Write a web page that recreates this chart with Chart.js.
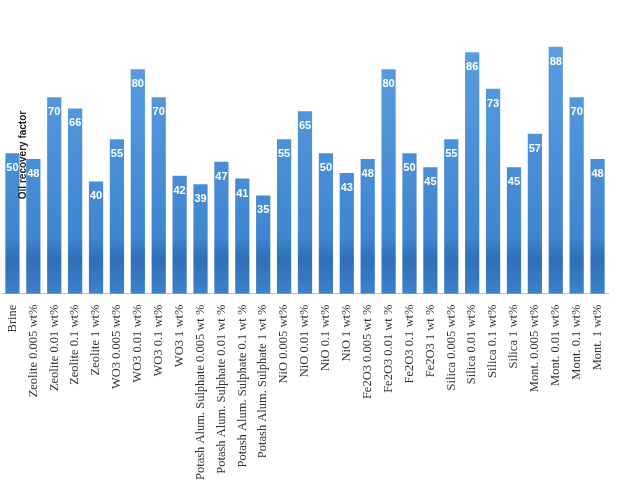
<!DOCTYPE html>
<html><head>
<script src="https://cdn.jsdelivr.net/npm/chart.js@4"></script>
<style>body{margin:0;background:#fff}#wrap{width:622px;height:485px}</style>
</head><body>
<div id="wrap"><canvas id="c"></canvas></div>
<script>
const labels = ["Brine","Zeolite 0.005 wt%","Zeolite 0.01 wt%","Zeolite 0.1 wt%","Zeolite 1 wt%",
  "WO3 0.005 wt%","WO3 0.01 wt%","WO3 0.1 wt%","WO3 1 wt%",
  "Potash Alum. Sulphate 0.005 wt %","Potash Alum. Sulphate 0.01 wt %","Potash Alum. Sulphate 0.1 wt %","Potash Alum. Sulphate 1 wt %",
  "NiO 0.005 wt%","NiO 0.01 wt%","NiO 0.1 wt%","NiO 1 wt%",
  "Fe2O3 0.005 wt %","Fe2O3 0.01 wt %","Fe2O3 0.1 wt%","Fe2O3 1 wt %",
  "Silica 0.005 wt%","Silica 0.01 wt%","Silica 0.1 wt%","Silica 1 wt%",
  "Mont. 0.005 wt%","Mont. 0.01 wt%","Mont. 0.1 wt%","Mont. 1 wt%"];
const values = [50,48,70,66,40,55,80,70,42,39,47,41,35,55,65,50,43,48,80,50,45,55,86,73,45,57,88,70,48];

const labelPlugin = {
  id: "lbl",
  afterDatasetsDraw(chart) {
    const ctx = chart.ctx;
    ctx.save();
    ctx.fillStyle = "#fff";
    ctx.font = "bold 11px 'Liberation Sans', Arial";
    ctx.textAlign = "center";
    ctx.textBaseline = "middle";
    chart.getDatasetMeta(0).data.forEach((b, i) => {
      ctx.fillText(values[i], b.x, b.y + 15);
    });
    ctx.fillStyle = "#222";
    ctx.font = "bold 10px 'Liberation Sans', Arial";
    ctx.translate(23, 155);
    ctx.rotate(-Math.PI / 2);
    ctx.fillText("Oil recovery factor", 0, 0);
    ctx.restore();
  }
};

new Chart(document.getElementById("c"), {
  type: "bar",
  data: {
    labels,
    datasets: [{
      data: values,
      backgroundColor: (c) => {
        const area = c.chart.chartArea;
        if (!area) return "#5b9bd5";
        const g = c.chart.ctx.createLinearGradient(0, area.top, 0, area.bottom);
        g.addColorStop(0, "#5fa2e2");
        g.addColorStop(0.8, "#3f85d0");
        g.addColorStop(0.88, "#2f6fb8");
        g.addColorStop(1, "#3d82cc");
        return g;
      },
      barPercentage: 0.68,
      categoryPercentage: 1
    }]
  },
  options: {
    animation: false,
    responsive: true,
    maintainAspectRatio: false,
    layout: { padding: { left: 2, right: 14, top: 13, bottom: 2 } },
    plugins: { legend: { display: false }, tooltip: { enabled: false } },
    scales: {
      x: {
        grid: { display: false },
        border: { color: "#bbb" },
        ticks: { color: "#333", maxRotation: 90, minRotation: 90, autoSkip: false,
          font: { family: "'Liberation Serif', serif", size: 12.5 } }
      },
      y: { display: false, min: 0, max: 100 }
    }
  },
  plugins: [labelPlugin]
});
</script>
</body></html>
